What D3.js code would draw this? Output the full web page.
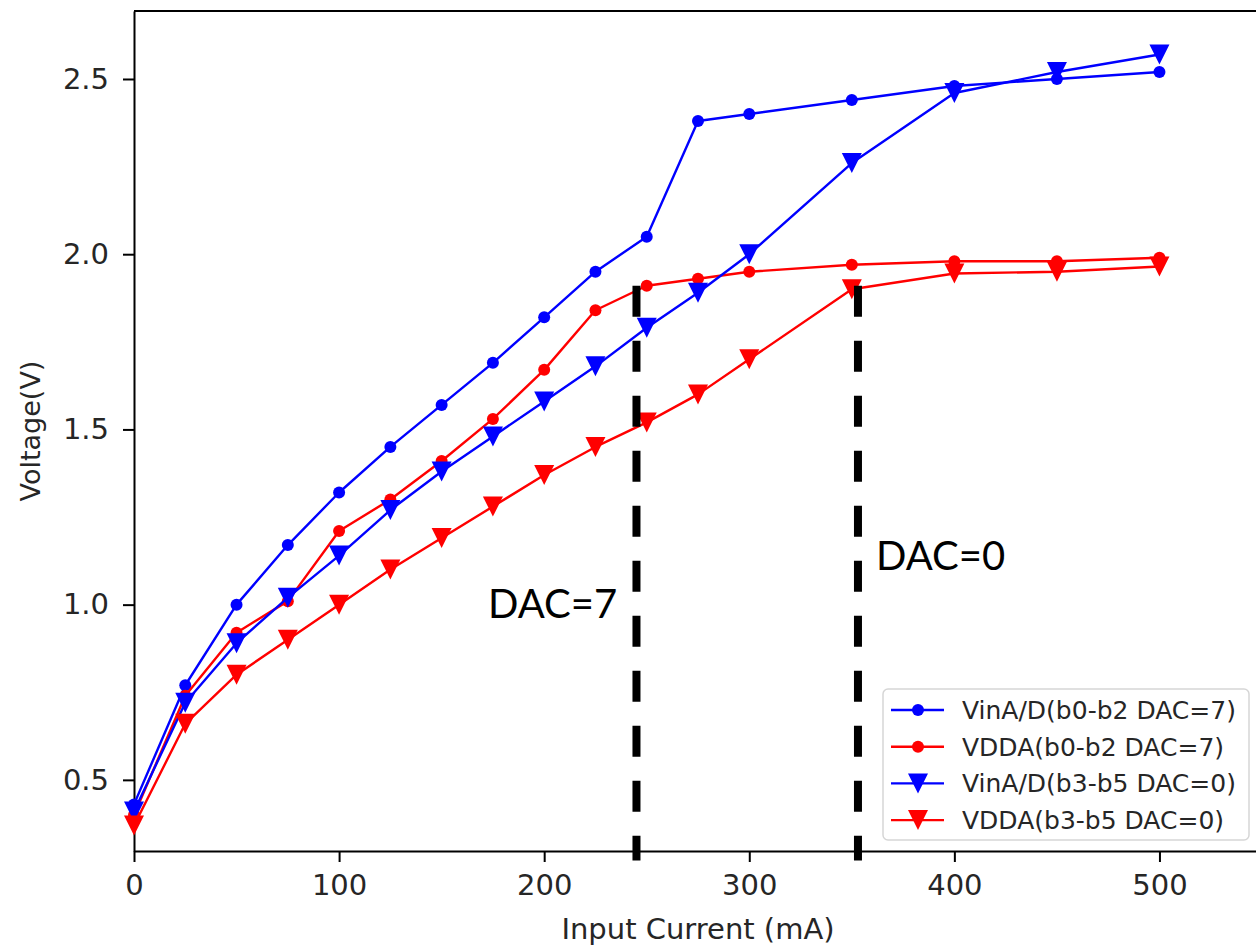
<!DOCTYPE html>
<html>
<head>
<meta charset="utf-8">
<script src="https://cdn.jsdelivr.net/npm/d3@7"></script>
<style>
  body { margin: 0; background: #fff; }
  .axis text { font-family: "DejaVu Sans", sans-serif; font-size: 29px; fill: #262626; }
  .axis path, .axis line { stroke: #000; stroke-width: 2px; }
</style>
</head>
<body>
<div id="chart"></div>
<script>
// data
var current = [0, 25, 50, 75, 100, 125, 150, 175, 200, 225, 250, 275, 300, 350, 400, 450, 500]
var vinDac7  = [0.43, 0.77, 1.00, 1.17, 1.32, 1.45, 1.57, 1.69, 1.82, 1.95, 2.05, 2.38, 2.40, 2.44, 2.48, 2.50, 2.52]
var vddaDac7 = [0.40, 0.74, 0.92, 1.01, 1.21, 1.30, 1.41, 1.53, 1.67, 1.84, 1.91, 1.93, 1.95, 1.97, 1.98, 1.98, 1.99]
var vinDac0  = [0.41, 0.72, 0.89, 1.02, 1.14, 1.27, 1.38, 1.48, 1.58, 1.68, 1.79, 1.89, 2.00, 2.26, 2.46, 2.52, 2.57]
var vddaDac0 = [0.37, 0.66, 0.80, 0.90, 1.00, 1.10, 1.19, 1.28, 1.37, 1.45, 1.52, 1.60, 1.70, 1.90, 1.945, 1.95, 1.965]

var seriesNames = ["VinA/D(b0-b2 DAC=7)", "VDDA(b0-b2 DAC=7)", "VinA/D(b3-b5 DAC=0)", "VDDA(b3-b5 DAC=0)"]
var seriesValues = [vinDac7, vddaDac7, vinDac0, vddaDac0]
var seriesColors = ["#0000ff", "#ff0000", "#0000ff", "#ff0000"]
var seriesMarkers = ["circle", "circle", "triangle", "triangle"]

var xTicks = [0, 100, 200, 300, 400, 500]
var yTicks = [0.5, 1.0, 1.5, 2.0, 2.5]

// dashed markers for where the DAC setting saturates
var dacLabels = ["DAC=7", "DAC=0"]
var dacCurrent = [245, 353]
var dacTop = [1.91, 1.91]

var widthSvg = 1256
var heightSvg = 947
var plot = { left: 134, top: 11, right: 1262, bottom: 851 }

var svg = d3.select("#chart").append("svg")
  .attr("width", widthSvg)
  .attr("height", heightSvg)

var xScale = d3.scaleLinear().domain([0, 550]).range([plot.left, plot.right])
var yScale = d3.scaleLinear().domain([0.297, 2.694]).range([plot.bottom, plot.top])

// frame (top + right spines)
svg.append("path")
  .attr("d", "M" + plot.left + "," + plot.top + "H" + plot.right + "V" + plot.bottom)
  .attr("fill", "none")
  .attr("stroke", "#000")
  .attr("stroke-width", 2)

var xAxis = d3.axisBottom(xScale).tickValues(xTicks).tickSize(11).tickPadding(12).tickSizeOuter(0)
svg.append("g")
  .attr("class", "axis x-axis")
  .attr("transform", "translate(0," + plot.bottom + ")")
  .call(xAxis)

var yAxis = d3.axisLeft(yScale).tickValues(yTicks).tickSize(11).tickPadding(14).tickSizeOuter(0)
  .tickFormat(d3.format(".1f"))
svg.append("g")
  .attr("class", "axis y-axis")
  .attr("transform", "translate(" + plot.left + ",0)")
  .call(yAxis)

svg.append("text")
  .attr("x", (plot.left + plot.right) / 2)
  .attr("y", 939)
  .attr("text-anchor", "middle")
  .style("font-family", "DejaVu Sans, sans-serif")
  .style("font-size", "29px")
  .style("fill", "#262626")
  .text("Input Current (mA)")

svg.append("text")
  .attr("transform", "translate(40," + (plot.top + plot.bottom) / 2 + ") rotate(-90)")
  .attr("text-anchor", "middle")
  .style("font-family", "DejaVu Sans, sans-serif")
  .style("font-size", "27px")
  .style("fill", "#262626")
  .text("Voltage(V)")

function drawMarker(g, kind, x, y, color) {
  if (kind === "circle") {
    g.append("circle").attr("cx", x).attr("cy", y).attr("r", 6).attr("fill", color)
  } else {
    var s = 10
    g.append("path")
      .attr("d", "M" + (x - s) + "," + (y - s) + "L" + (x + s) + "," + (y - s) + "L" + x + "," + (y + s) + "Z")
      .attr("fill", color)
  }
}

var line = d3.line()
  .x(function(d) { return xScale(d[0]) })
  .y(function(d) { return yScale(d[1]) })

seriesValues.forEach(function(vals, i) {
  var pts = current.map(function(c, j) { return [c, vals[j]] })
  var g = svg.append("g").attr("class", "series")
  g.append("path")
    .attr("d", line(pts))
    .attr("fill", "none")
    .attr("stroke", seriesColors[i])
    .attr("stroke-width", 2.4)
    .attr("stroke-linejoin", "round")
  pts.forEach(function(p) {
    drawMarker(g, seriesMarkers[i], xScale(p[0]), yScale(p[1]), seriesColors[i])
  })
})

// dashed DAC lines and labels
dacCurrent.forEach(function(c, i) {
  svg.append("line")
    .attr("x1", xScale(c)).attr("x2", xScale(c))
    .attr("y1", yScale(dacTop[i])).attr("y2", yScale(0.27))
    .attr("stroke", "#000")
    .attr("stroke-width", 8)
    .attr("stroke-dasharray", "31,24")
})
svg.append("text")
  .attr("x", 488).attr("y", 618)
  .style("font-family", "Lato, sans-serif")
  .style("font-size", "40px")
  .text(dacLabels[0])
svg.append("text")
  .attr("x", 876).attr("y", 570)
  .style("font-family", "Lato, sans-serif")
  .style("font-size", "40px")
  .text(dacLabels[1])

// legend
var legend = svg.append("g").attr("class", "legend")
legend.append("rect")
  .attr("x", 883).attr("y", 689)
  .attr("width", 366).attr("height", 151)
  .attr("rx", 5)
  .attr("fill", "#fff").attr("fill-opacity", 0.8)
  .attr("stroke", "#d6d6d6").attr("stroke-width", 1.5)

seriesNames.forEach(function(name, i) {
  var y = 710 + i * 36.7
  legend.append("line")
    .attr("x1", 891).attr("x2", 944)
    .attr("y1", y).attr("y2", y)
    .attr("stroke", seriesColors[i]).attr("stroke-width", 2.4)
  drawMarker(legend, seriesMarkers[i], 918, y, seriesColors[i])
  legend.append("text")
    .attr("x", 962).attr("y", y + 9)
    .style("font-family", "DejaVu Sans, sans-serif")
    .style("font-size", "25px")
    .style("fill", "#262626")
    .text(name)
})
</script>
</body>
</html>
